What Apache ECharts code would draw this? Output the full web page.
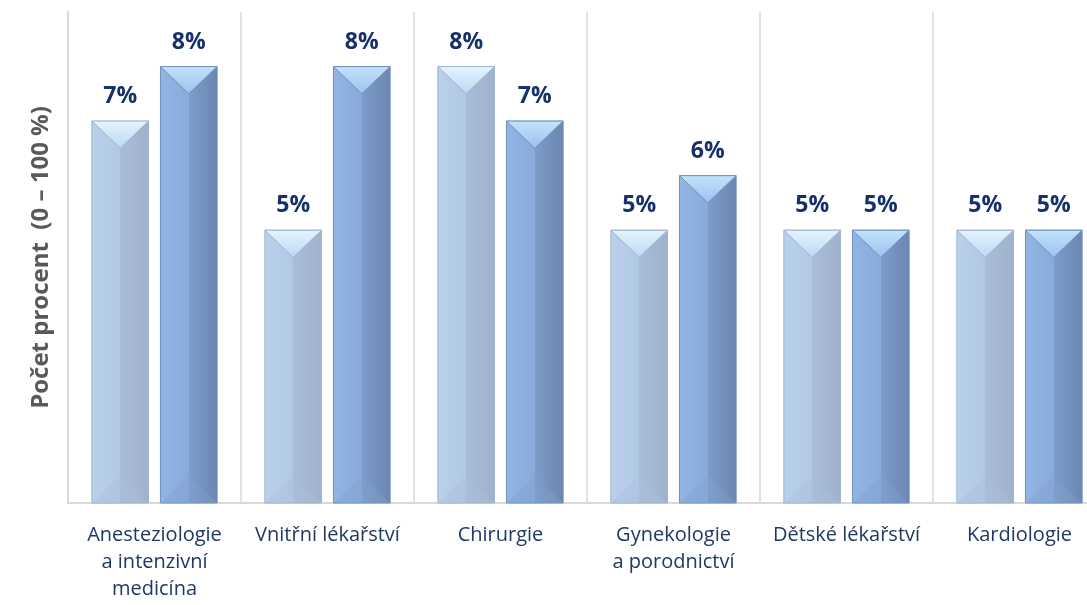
<!DOCTYPE html>
<html lang="cs">
<head>
<meta charset="UTF-8">
<title>Počet procent</title>
<script src="https://cdn.jsdelivr.net/npm/echarts@6/dist/echarts.min.js"></script>
<style>
  html, body { margin: 0; padding: 0; background: #fff; }
  #main { width: 1087px; height: 605px; }
</style>
</head>
<body>
<div id="main"></div>
<script>
  const categories = [
    'Anesteziologie\na intenzivní\nmedicína',
    'Vnitřní lékařství',
    'Chirurgie',
    'Gynekologie\na porodnictví',
    'Dětské lékařství',
    'Kardiologie'
  ];
  const seriesA = [7, 5, 8, 5, 5, 5];
  const seriesB = [8, 8, 7, 6, 5, 5];

  const palettes = {
    light: { body: ['#bad1ec', '#b2c9e6', '#aabdd8', '#9fb1cb'], top: ['#e4f4ff', '#bcd8f2'], bottom: '#a9bfdc', edge: '#9fb4d0' },
    dark:  { body: ['#93b5e3', '#89abdb', '#7f9dca', '#6a86b0'], top: ['#c3e2fc', '#9cc2ec'], bottom: '#819fce', edge: '#7090bd' }
  };

  function makeRender(side, pal) {
    return function (params, api) {
      let idx = api.value(0);
      let val = api.value(1);
      let base = api.coord([idx, 0]);
      let top = api.coord([idx, val]);
      let band = api.size([1, 0])[0];
      let bw = band * 57 / 174;
      let gap = band * 12 / 174;
      let x0 = side < 0 ? base[0] - gap / 2 - bw : base[0] + gap / 2;
      let x1 = x0 + bw, xc = x0 + bw / 2;
      let y0 = top[1], y1 = base[1];
      let d = bw * 0.48;
      return {
        type: 'group',
        children: [
          {
            type: 'rect',
            shape: { x: x0, y: y0, width: bw, height: y1 - y0 },
            style: {
              fill: new echarts.graphic.LinearGradient(0, 0, 1, 0, [
                { offset: 0, color: pal.body[0] },
                { offset: 0.5, color: pal.body[1] },
                { offset: 0.5, color: pal.body[2] },
                { offset: 1, color: pal.body[3] }
              ]),
              stroke: pal.edge, lineWidth: 1
            }
          },
          {
            type: 'polygon',
            shape: { points: [[x0, y1], [x1, y1], [xc, y1 - d]] },
            style: { fill: pal.bottom, opacity: 0.4 }
          },
          {
            type: 'polygon',
            shape: { points: [[x0, y0], [x1, y0], [xc, y0 + d]] },
            style: {
              fill: new echarts.graphic.LinearGradient(0, 0, 0, 1, [
                { offset: 0, color: pal.top[0] },
                { offset: 1, color: pal.top[1] }
              ]),
              stroke: pal.edge, lineWidth: 1
            }
          },
          {
            type: 'text',
            style: {
              text: val + '%', x: xc, y: y0 - 13,
              align: 'center', verticalAlign: 'bottom',
              fill: '#15306a', font: 'bold 23px "Open Sans"'
            }
          }
        ]
      };
    };
  }

  let chart = echarts.init(document.getElementById('main'));
  chart.setOption({
    animation: false,
    grid: { left: 68, top: 12, width: 1038, height: 491, outerBoundsMode: 'none' },
    xAxis: {
      type: 'category',
      data: categories,
      axisLine: { lineStyle: { color: '#d9d9d9', width: 2 } },
      axisTick: { show: false },
      splitLine: { show: true, lineStyle: { color: '#d9d9d9', width: 1.5 } },
      axisLabel: {
        color: '#1f3864', fontSize: 20, lineHeight: 27,
        fontFamily: 'Open Sans', margin: 19, interval: 0
      }
    },
    yAxis: {
      type: 'value',
      min: 0, max: 9,
      name: 'Počet procent  (0 – 100 %)',
      nameLocation: 'middle',
      nameGap: 15,
      nameTextStyle: { color: '#595959', fontSize: 24, fontWeight: 'bold', fontFamily: 'Open Sans' },
      axisLine: { show: true, lineStyle: { color: '#d9d9d9', width: 2 } },
      axisTick: { show: false },
      axisLabel: { show: false },
      splitLine: { show: false }
    },
    series: [
      {
        type: 'custom',
        renderItem: makeRender(-1, palettes.light),
        encode: { x: 0, y: 1 },
        clip: false,
        data: seriesA.map((v, i) => [i, v])
      },
      {
        type: 'custom',
        renderItem: makeRender(1, palettes.dark),
        encode: { x: 0, y: 1 },
        clip: false,
        data: seriesB.map((v, i) => [i, v])
      }
    ]
  });
</script>
</body>
</html>
